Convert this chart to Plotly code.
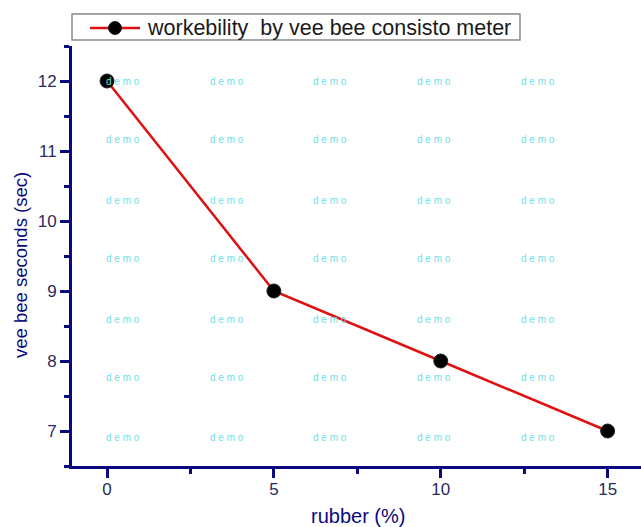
import plotly.graph_objects as go

rubber = [0, 5, 10, 15]
vee_bee = [12, 9, 8, 7]
series_name = "workebility  by vee bee consisto meter"
x_title = "rubber (%)"
y_title = "vee bee seconds (sec)"

wm_x = [0.48, 3.58, 6.69, 9.79, 12.9]
wm_y = [12.0, 11.16, 10.3, 9.46, 8.6, 7.76, 6.91]

navy = "#0a0a80"
W, H = 641, 527
L, R, T, B = 72, 0, 46, 61
pw, ph = W - L - R, H - T - B

def px(xp):
    return (xp - L) / pw

def py(yp):
    return (H - B - yp) / ph

fig = go.Figure()
fig.add_trace(go.Scatter(
    x=rubber, y=vee_bee, mode="lines+markers", name=series_name,
    line=dict(color="#e01010", width=2.5),
    marker=dict(color="black", size=14, line=dict(color="#222", width=1)),
    cliponaxis=False, showlegend=False,
))

annotations = []
for yy in wm_y:
    for xx in wm_x:
        annotations.append(dict(x=xx, y=yy, xref="x", yref="y", text="d e m o",
                                showarrow=False,
                                font=dict(size=10, color="#6fdfe8", family="Liberation Sans")))

# axis titles
annotations.append(dict(x=px(358), y=py(516), xref="paper", yref="paper", text=x_title,
                        showarrow=False, xanchor="center", yanchor="middle",
                        font=dict(size=20, color=navy, family="Liberation Sans")))
annotations.append(dict(x=px(20), y=py(265), xref="paper", yref="paper", text=y_title,
                        showarrow=False, textangle=-90, xanchor="center", yanchor="middle",
                        font=dict(size=18.5, color=navy, family="Liberation Sans")))
# legend text
annotations.append(dict(x=px(145), y=py(28), xref="paper", yref="paper", text=series_name,
                        showarrow=False, xanchor="left", yanchor="middle",
                        font=dict(size=21.5, color="#1a1a1a", family="Liberation Sans")))

shapes = [
    dict(type="rect", xref="paper", yref="paper", x0=px(72), x1=px(520), y0=py(40), y1=py(14),
         line=dict(color="#888888", width=1.5), fillcolor="white"),
    dict(type="line", xref="paper", yref="paper", x0=px(90), x1=px(140), y0=py(28), y1=py(28),
         line=dict(color="#e01010", width=2.5)),
    dict(type="circle", xref="paper", yref="paper", xsizemode="pixel", ysizemode="pixel",
         xanchor=px(115), yanchor=py(28), x0=-6.5, x1=6.5, y0=-6.5, y1=6.5,
         fillcolor="black", line=dict(color="#222", width=1)),
]

axis_common = dict(
    showline=True, linecolor=navy, linewidth=3, ticks="outside", tickcolor=navy,
    tickwidth=2.5, ticklen=9, showgrid=False, zeroline=False, automargin=False,
    tickfont=dict(size=17, color="#2a2a60", family="Liberation Sans"),
)

fig.update_layout(
    width=W, height=H,
    margin=dict(l=L, r=R, t=T, b=B, autoexpand=False),
    plot_bgcolor="white", paper_bgcolor="white",
    font=dict(family="Liberation Sans"),
    showlegend=False,
    xaxis=dict(range=[-1.05, 16.0], dtick=5, tick0=0, ticklabelstandoff=-3,
               minor=dict(dtick=2.5, ticks="outside", ticklen=5, tickcolor=navy, tickwidth=2.5),
               **axis_common),
    yaxis=dict(range=[6.5, 12.5], dtick=1, tick0=7,
               minor=dict(dtick=0.5, ticks="outside", ticklen=5, tickcolor=navy, tickwidth=2.5),
               **axis_common),
    annotations=annotations,
    shapes=shapes,
)

fig.write_html("out.html", config={"displayModeBar": False},
               post_script="document.body.style.margin='0px';document.body.style.overflow='hidden';")
